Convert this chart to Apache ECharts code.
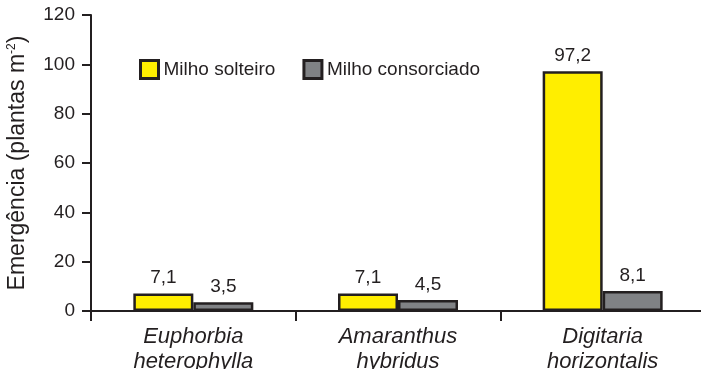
<!DOCTYPE html>
<html>
<head>
<meta charset="utf-8">
<script src="https://cdn.jsdelivr.net/npm/echarts@6/dist/echarts.min.js"></script>
<style>
  html, body { margin: 0; padding: 0; background: #fff; }
  #chart { width: 701px; height: 369px; }
</style>
</head>
<body>
<div id="chart"></div>
<script>
const categories = ['Euphorbia\nheterophylla', 'Amaranthus\nhybridus', 'Digitaria\nhorizontalis'];
const seriesNames = ['Milho solteiro', 'Milho consorciado'];
const solteiro = [7.1, 7.1, 97.2];
const consorciado = [3.5, 4.5, 8.1];
const yTicks = [0, 20, 40, 60, 80, 100, 120];

const ink = '#231f20';
const font = "'Liberation Sans', Arial, sans-serif";

const chart = echarts.init(document.getElementById('chart'));

const barLabel = {
  show: true,
  position: 'top',
  distance: 6,
  color: ink,
  fontSize: 19,
  fontFamily: font,
  formatter: (p) => String(p.value).replace('.', ',')
};

const option = {
  animation: false,
  backgroundColor: '#fff',
  textStyle: { fontFamily: font, color: ink },
  legend: {
    left: 134,
    top: 54,
    itemWidth: 18,
    itemHeight: 18,
    itemGap: 27,
    icon: 'rect',
    itemStyle: { borderWidth: 3, borderColor: ink },
    textStyle: { fontSize: 19, color: ink, fontFamily: font },
    data: seriesNames
  },
  grid: { left: 91, top: 15, width: 614, height: 296, outerBoundsMode: 'none', containLabel: false },
  xAxis: {
    type: 'category',
    data: categories,
    axisLine: { lineStyle: { color: ink, width: 2 } },
    axisTick: { show: true, length: 10, lineStyle: { color: ink, width: 2 } },
    axisLabel: {
      margin: 13,
      fontSize: 22,
      fontStyle: 'italic',
      lineHeight: 25,
      color: ink,
      fontFamily: font
    }
  },
  yAxis: {
    type: 'value',
    min: yTicks[0],
    max: yTicks[yTicks.length - 1],
    interval: 20,
    name: '{a|Emergência (plantas m}{s|-2}{a|)}',
    nameLocation: 'middle',
    nameGap: 62,
    nameTextStyle: {
      rich: {
        a: { fontSize: 23, color: ink, fontFamily: font },
        s: { fontSize: 12, color: ink, fontFamily: font, verticalAlign: 'top', padding: [0, 0, 9, 0] }
      }
    },
    axisLine: { show: true, lineStyle: { color: ink, width: 2 } },
    axisTick: { show: true, length: 9, lineStyle: { color: ink, width: 2 } },
    axisLabel: { margin: 16, fontSize: 19, color: ink, fontFamily: font },
    splitLine: { show: false }
  },
  series: [
    {
      name: seriesNames[0],
      type: 'bar',
      data: solteiro,
      barWidth: 60,
      barGap: '0%',
      itemStyle: { color: '#ffee00', borderColor: ink, borderWidth: 2.5 },
      label: barLabel
    },
    {
      name: seriesNames[1],
      type: 'bar',
      data: consorciado,
      barWidth: 60,
      itemStyle: { color: '#808285', borderColor: ink, borderWidth: 2.5 },
      label: barLabel
    }
  ]
};

chart.setOption(option);
</script>
</body>
</html>
